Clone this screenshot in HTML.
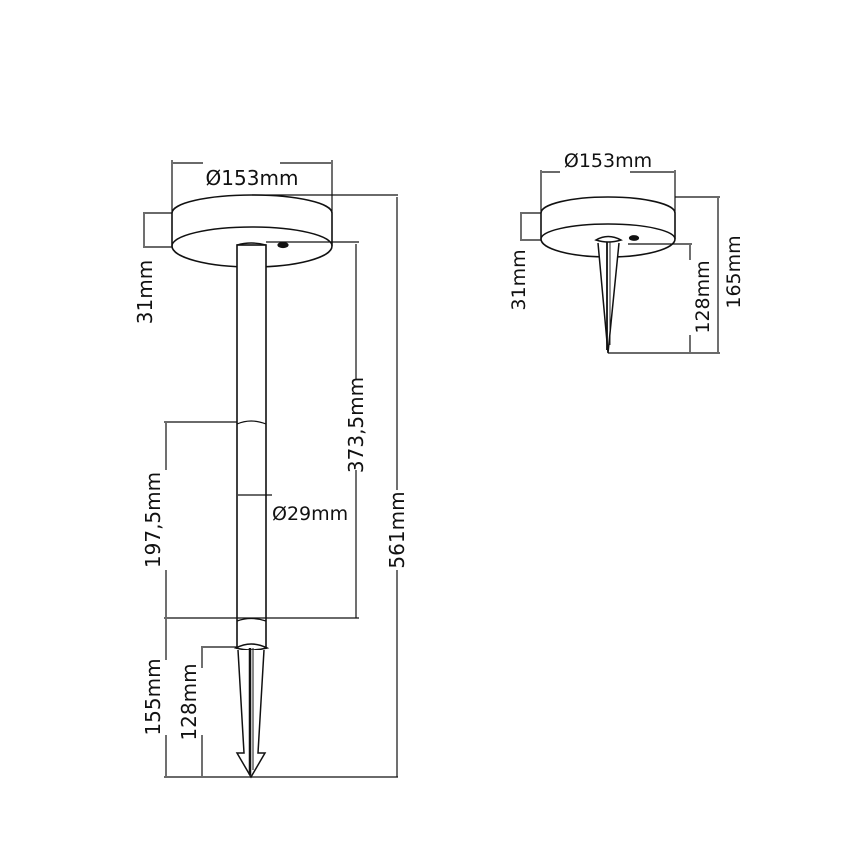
<!DOCTYPE html>
<html><head><meta charset="utf-8"><style>
html,body{margin:0;padding:0;background:#fff;}
svg{display:block}
text{font-family:"DejaVu Sans","Liberation Sans",sans-serif;fill:#111;}
</style></head><body>
<svg width="868" height="868" viewBox="0 0 868 868" xmlns="http://www.w3.org/2000/svg">
<g fill="none" stroke="#111" stroke-width="1.2">
<!-- LEFT LAMP -->
<!-- disc -->
<path d="M172,213 A80,18 0 0 1 332,213 L332,246 A80,21 0 0 1 172,246 Z" fill="#fff" stroke-width="1.6"/>
<path d="M172,246 A80,19 0 0 1 332,246" stroke-width="1.4"/>
<ellipse cx="283" cy="245" rx="5" ry="2.5" fill="#111"/>
<!-- pole -->
<rect x="237" y="245" width="29" height="403" fill="#fff" stroke-width="1.6"/>
<path d="M237,245 Q251,241 266,245" stroke-width="1.4"/>
<path d="M237,424 Q251,418 266,424" stroke-width="1.2"/>
<path d="M237,621 Q251,616 266,621" stroke-width="1.2"/>
<!-- spike -->
<path d="M236,648 Q251,640 267,648 Q251,652 236,648 Z" fill="#fff" stroke-width="1.6"/>
<path d="M238,650 L244,753 L237,753 L251,777 L265,753 L258,753 L264,650" fill="#fff" stroke-width="1.5"/>
<line x1="250" y1="648" x2="250" y2="775" stroke-width="2.5"/>
<line x1="253" y1="648" x2="253" y2="770" stroke-width="1"/>

<!-- dims left -->
<line x1="172" y1="160" x2="172" y2="213"/>
<line x1="332" y1="160" x2="332" y2="213"/>
<line x1="173" y1="163" x2="203" y2="163"/>
<line x1="280" y1="163" x2="331" y2="163"/>
<line x1="143" y1="213" x2="172" y2="213"/>
<line x1="143" y1="247" x2="172" y2="247"/>
<line x1="144" y1="214" x2="144" y2="246"/>
<line x1="266" y1="242" x2="359" y2="242"/>
<line x1="356" y1="244" x2="356" y2="380"/>
<line x1="356" y1="470" x2="356" y2="618"/>
<line x1="252" y1="195" x2="398" y2="195"/>
<line x1="397" y1="197" x2="397" y2="490"/>
<line x1="397" y1="570" x2="397" y2="777"/>
<line x1="164" y1="422" x2="237" y2="422"/>
<line x1="166" y1="423" x2="166" y2="470"/>
<line x1="166" y1="570" x2="166" y2="617"/>
<line x1="164" y1="618" x2="359" y2="618"/>
<line x1="166" y1="619" x2="166" y2="660"/>
<line x1="166" y1="735" x2="166" y2="776"/>
<line x1="201" y1="647" x2="237" y2="647"/>
<line x1="202" y1="648" x2="202" y2="668"/>
<line x1="202" y1="735" x2="202" y2="776"/>
<line x1="164" y1="777" x2="398" y2="777"/>
<line x1="238" y1="495" x2="272" y2="495"/>

<!-- RIGHT LAMP -->
<path d="M541,213 A67,16 0 0 1 675,213 L675,239 A67,18 0 0 1 541,239 Z" fill="#fff" stroke-width="1.6"/>
<path d="M541,239 A67,15 0 0 1 675,239" stroke-width="1.4"/>
<ellipse cx="634" cy="238" rx="4.5" ry="2.3" fill="#111"/>
<path d="M596,240 Q608,233 621,240 Q608,244 596,240 Z" fill="#fff" stroke-width="1.5"/>
<path d="M598,243 L608,353 L619,243" fill="#fff" stroke-width="1.5"/>
<line x1="607" y1="242" x2="607" y2="350" stroke-width="1.8"/>
<line x1="610" y1="242" x2="610" y2="345" stroke-width="0.9"/>
<!-- dims right -->
<line x1="541" y1="170" x2="541" y2="213"/>
<line x1="675" y1="170" x2="675" y2="213"/>
<line x1="542" y1="172" x2="560" y2="172"/>
<line x1="630" y1="172" x2="674" y2="172"/>
<line x1="520" y1="213" x2="541" y2="213"/>
<line x1="520" y1="240" x2="541" y2="240"/>
<line x1="521" y1="214" x2="521" y2="239"/>
<line x1="628" y1="244" x2="692" y2="244"/>
<line x1="690" y1="245" x2="690" y2="260"/>
<line x1="690" y1="335" x2="690" y2="352"/>
<line x1="675" y1="197" x2="720" y2="197"/>
<line x1="718" y1="198" x2="718" y2="352"/>
<line x1="608" y1="353" x2="720" y2="353"/>
</g>
<g font-size="20">
<text x="252" y="185" text-anchor="middle">Ø153mm</text>
<text x="608" y="167" text-anchor="middle" font-size="19">Ø153mm</text>
<text x="272" y="520" font-size="19">Ø29mm</text>
<text transform="translate(152,292) rotate(-90)" text-anchor="middle">31mm</text>
<text transform="translate(363,425) rotate(-90)" text-anchor="middle">373,5mm</text>
<text transform="translate(404,530) rotate(-90)" text-anchor="middle">561mm</text>
<text transform="translate(160,520) rotate(-90)" text-anchor="middle">197,5mm</text>
<text transform="translate(160,697) rotate(-90)" text-anchor="middle">155mm</text>
<text transform="translate(196,702) rotate(-90)" text-anchor="middle">128mm</text>
<text transform="translate(525,280) rotate(-90)" text-anchor="middle" font-size="19">31mm</text>
<text transform="translate(709,297) rotate(-90)" text-anchor="middle" font-size="19">128mm</text>
<text transform="translate(740,272) rotate(-90)" text-anchor="middle" font-size="19">165mm</text>
</g>
</svg>
</body></html>
